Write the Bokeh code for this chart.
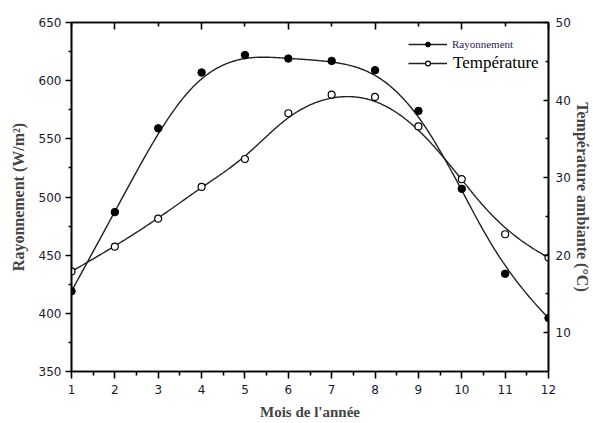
import numpy as np
from bokeh.plotting import figure
from bokeh.models import (Range1d, LinearAxis, FixedTicker, Legend, LegendItem,
                          CustomJSTickFormatter)
from bokeh.embed import file_html
from bokeh.resources import INLINE

# Monthly data
months = [1, 2, 3, 4, 5, 6, 7, 8, 9, 10, 11, 12]
rayonnement = [419, 487, 559, 607, 622, 619, 617, 609, 574, 507, 434, 396]      # W/m2
temperature = [17.9, 21.1, 24.7, 28.8, 32.4, 38.3, 40.7, 40.4, 36.6, 29.8, 22.7, 19.7]  # degC

left_ticks = [350, 400, 450, 500, 550, 600, 650]
right_ticks = [10, 20, 30, 40, 50]


def bspline(cx, cy, k=3, samples=400):
    """Clamped uniform B-spline using the points as control points."""
    cx = np.asarray(cx, float)
    cy = np.asarray(cy, float)
    n = len(cx)
    span = n - k
    knots = np.concatenate([np.zeros(k + 1), np.arange(1, span), np.full(k + 1, span)]).astype(float)
    t = np.linspace(0, span, samples)
    B = np.zeros((samples, len(knots) - 1))
    for i in range(len(knots) - 1):
        B[:, i] = (t >= knots[i]) & (t < knots[i + 1])
    B[-1, n - 1] = 1.0
    for d in range(1, k + 1):
        Bn = np.zeros((samples, len(knots) - 1 - d))
        for i in range(len(knots) - 1 - d):
            den1 = knots[i + d] - knots[i]
            den2 = knots[i + d + 1] - knots[i + 1]
            left = (t - knots[i]) / den1 * B[:, i] if den1 > 0 else 0.0
            right = (knots[i + d + 1] - t) / den2 * B[:, i + 1] if den2 > 0 else 0.0
            Bn[:, i] = left + right
        B = Bn
    return B @ cx, B @ cy


rx, ry = bspline(months, rayonnement)
tx, ty = bspline(months, temperature)

p = figure(width=593, height=423, output_backend="svg", toolbar_location=None,
           x_range=Range1d(1, 12), y_range=Range1d(350, 650),
           min_border_left=71, min_border_right=45, min_border_top=22, min_border_bottom=52,
           background_fill_color="white", border_fill_color="white")
p.extra_y_ranges = {"temp": Range1d(5, 50)}
p.grid.visible = False
p.outline_line_color = "black"
p.outline_line_width = 1.6

tick_font = "DejaVu Sans"
tick_color = "#1a1a2e"
title_font = "Liberation Serif"

# left axis
ya = p.yaxis[0]
ya.ticker = FixedTicker(ticks=left_ticks, minor_ticks=[375, 425, 475, 525, 575, 625])
ya.axis_label = "Rayonnement (W/m²)"
ya.axis_label_text_font = title_font
ya.axis_label_text_font_style = "bold"
ya.axis_label_text_font_size = "16px"
ya.axis_label_standoff = 9
ya.major_label_text_font = tick_font
ya.major_label_text_font_size = "12px"
ya.major_label_text_color = tick_color
ya.major_label_standoff = 4
ya.major_tick_in = 0
ya.major_tick_out = 6
ya.minor_tick_in = 0
ya.minor_tick_out = 3
ya.axis_line_width = 1.6
ya.major_tick_line_width = 1.6
ya.minor_tick_line_width = 1.6

# bottom axis
xa = p.xaxis[0]
xa.ticker = FixedTicker(ticks=months, minor_ticks=[m + 0.5 for m in months[:-1]])
xa.axis_label = "Mois de l'année"
xa.axis_label_text_font = title_font
xa.axis_label_text_font_style = "bold"
xa.axis_label_text_font_size = "15px"
xa.axis_label_standoff = 7
xa.major_label_text_font = tick_font
xa.major_label_text_font_size = "12px"
xa.major_label_text_color = tick_color
xa.major_label_standoff = 6
xa.major_tick_in = 0
xa.major_tick_out = 7
xa.minor_tick_in = 0
xa.minor_tick_out = 4
xa.axis_line_width = 1.6
xa.major_tick_line_width = 1.6
xa.minor_tick_line_width = 1.6

# top axis: inner ticks only, no labels
top = LinearAxis(ticker=FixedTicker(ticks=[2, 4, 6, 8, 10, 12], minor_ticks=[1, 3, 5, 7, 9, 11]),
                 formatter=CustomJSTickFormatter(code="return ''"),
                 major_label_standoff=0,
                 major_tick_in=7, major_tick_out=0, minor_tick_in=4, minor_tick_out=0,
                 major_tick_line_width=1.6, minor_tick_line_width=1.6, axis_line_width=1.6)
p.add_layout(top, "above")

# right axis: temperature
ra = LinearAxis(y_range_name="temp",
                ticker=FixedTicker(ticks=right_ticks, minor_ticks=[15, 25, 35, 45]),
                axis_label="Température ambiante (°C)",
                axis_label_text_font=title_font, axis_label_text_font_style="bold",
                axis_label_text_font_size="16px", axis_label_standoff=0,
                major_label_text_font=tick_font, major_label_text_font_size="12px",
                major_label_text_color=tick_color, major_label_standoff=7,
                major_tick_in=5, major_tick_out=0, minor_tick_in=3, minor_tick_out=0,
                axis_line_width=1.6, major_tick_line_width=1.6, minor_tick_line_width=1.6)
p.add_layout(ra, "right")

line_color = "#222222"
r_line = p.line(rx, ry, line_color=line_color, line_width=1.4)
r_pts = p.scatter(months, rayonnement, marker="circle", size=7.5,
                  fill_color="black", line_color="black")
t_line = p.line(tx, ty, y_range_name="temp", line_color=line_color, line_width=1.4)
t_pts = p.scatter(months, temperature, y_range_name="temp", marker="circle", size=7,
                  fill_color="white", line_color="black", line_width=1.2)

leg1 = Legend(items=[LegendItem(label="Rayonnement", renderers=[r_line, r_pts])],
              location=(337, 321), glyph_width=39, glyph_height=12, label_standoff=5,
              padding=0, spacing=0, margin=0, border_line_color=None,
              background_fill_alpha=0, label_text_font=title_font,
              label_text_font_size="11px", label_text_color="#2a2050",
              label_height=12)
leg2 = Legend(items=[LegendItem(label="Température", renderers=[t_line, t_pts])],
              location=(337, 298), glyph_width=39, glyph_height=12, label_standoff=6,
              padding=0, spacing=0, margin=0, border_line_color=None,
              background_fill_alpha=0, label_text_font=title_font,
              label_text_font_size="17px", label_text_color="black",
              label_height=18)
p.add_layout(leg1, "center")
p.add_layout(leg2, "center")

open("out.html", "w").write(file_html(p, INLINE))
